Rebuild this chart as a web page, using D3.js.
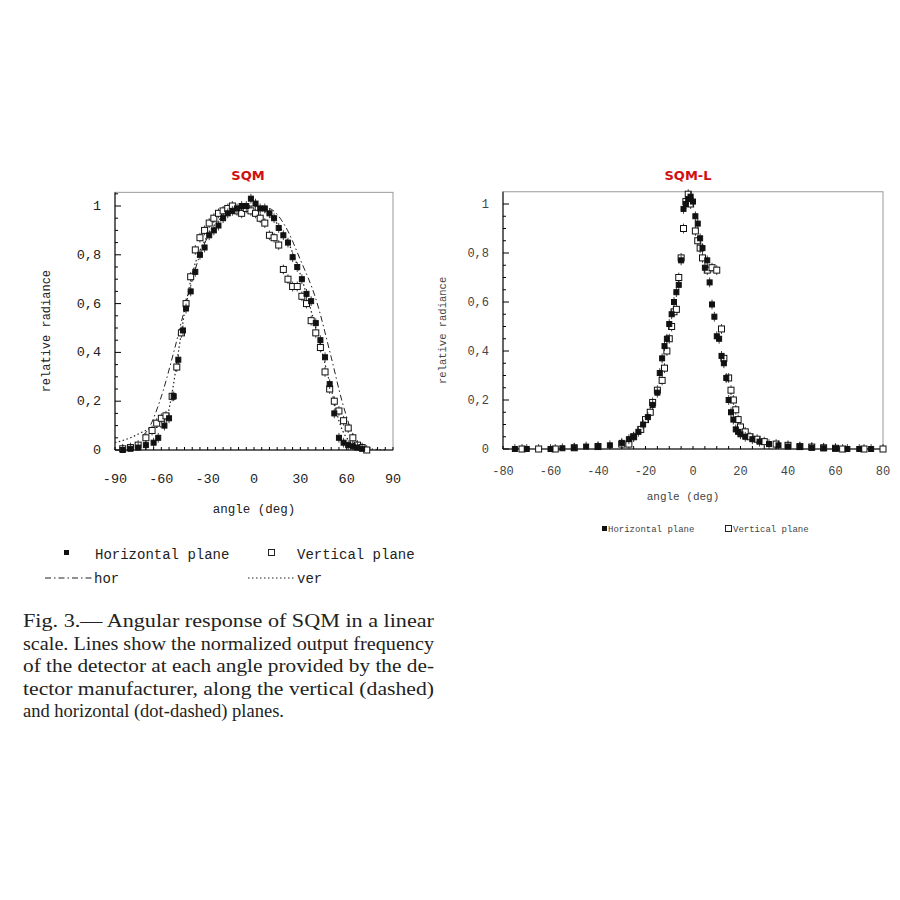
<!DOCTYPE html>
<html><head><meta charset="utf-8">
<script src="https://cdn.jsdelivr.net/npm/d3@7"></script>
<style>body{margin:0;background:#fff}</style>
</head><body>
<svg id="fig" width="900" height="900"></svg>
<script>
// SQM (left) data
var sqmHorX = [-85,-80,-75,-70,-65,-62,-58,-55,-52,-49,-46,-44,-41,-38,-35,-32,-29,-26,-23,-20,-17,-14,-11,-8,-5,-2,1,4,7,10,13,16,19,22,25,28,31,34,37,40,43,46,49,52,55,58,61,64,67,70];
var sqmHorY = [0,0.005,0.01,0.02,0.03,0.05,0.1,0.13,0.22,0.37,0.49,0.58,0.65,0.73,0.8,0.83,0.88,0.9,0.92,0.95,0.97,0.98,0.99,1.0,1.0,1.03,1.01,0.99,0.99,0.97,0.95,0.91,0.88,0.85,0.79,0.75,0.70,0.64,0.61,0.52,0.45,0.38,0.27,0.15,0.05,0.03,0.02,0.015,0.01,0.005];
var sqmVerX = [-85,-80,-75,-70,-66,-63,-60,-57,-53,-50,-47,-44,-41,-38,-35,-32,-29,-26,-23,-20,-17,-14,-11,-8,-5,-2,1,4,7,10,13,16,19,22,25,28,31,34,37,40,43,46,49,52,55,58,61,64,67,70,73];
var sqmVerY = [0.005,0.01,0.02,0.05,0.08,0.11,0.13,0.14,0.22,0.34,0.48,0.6,0.71,0.82,0.87,0.9,0.93,0.95,0.97,0.98,0.99,1.0,0.98,0.97,0.99,0.98,0.97,0.95,0.93,0.88,0.87,0.84,0.74,0.7,0.67,0.67,0.63,0.6,0.53,0.48,0.42,0.32,0.25,0.2,0.16,0.12,0.09,0.05,0.02,0.01,0];
var horLineX = [-72,-69,-61,-52,-44,-35,-20,-10,0,10,20,30,40,50,57,65,72];
var horLineY = [0.06,0.08,0.2,0.4,0.6,0.8,0.95,0.99,1.0,0.99,0.92,0.78,0.62,0.38,0.2,0.05,0];
var verLineX = [-90,-80,-70,-65,-58,-54,-49,-44,-40,-30,-20,-10,0,10,20,30,40,50,55,60,70,85];
var verLineY = [0.03,0.05,0.08,0.09,0.1,0.2,0.4,0.6,0.72,0.88,0.96,1.0,1.0,0.96,0.88,0.72,0.5,0.25,0.12,0.05,0.01,0];

// SQM-L (right) data
var sqmlHorX = [-75,-70,-60,-55,-50,-45,-40,-35,-30,-27,-25,-23,-21,-19,-17,-15,-14,-13,-12,-11,-10,-9,-8,-7,-6,-5,-4,-3,-2,-1,0,1,2,3,4,5,6,7,8,9,10,11,12,13,14,15,16,17,18,19,20,22,25,28,32,36,40,45,50,55,60,65,70,75];
var sqmlHorY = [0,0,0,0.003,0.005,0.01,0.01,0.015,0.025,0.04,0.05,0.07,0.1,0.13,0.18,0.23,0.31,0.37,0.42,0.45,0.51,0.55,0.6,0.64,0.67,0.77,0.98,1.0,1.02,1.03,1.01,0.95,0.92,0.86,0.82,0.74,0.77,0.68,0.59,0.54,0.46,0.45,0.38,0.35,0.29,0.2,0.15,0.12,0.08,0.07,0.06,0.05,0.04,0.03,0.02,0.015,0.01,0.008,0.005,0.003,0.002,0,0,0];
var sqmlVerX = [-72,-65,-58,-50,-40,-30,-27,-25,-22,-20,-18,-17,-15,-13,-12,-11,-10,-9,-8,-7,-6,-5,-4,-3,-2,-1,1,2,3,4,6,8,10,12,13,15,16,17,18,19,20,22,24,27,30,35,40,45,50,55,60,63,72,80];
var sqmlVerY = [0,0,0,0.005,0.01,0.02,0.02,0.05,0.08,0.12,0.15,0.19,0.24,0.28,0.33,0.40,0.45,0.5,0.56,0.57,0.7,0.78,0.9,1.01,1.04,1.0,0.89,0.85,0.82,0.78,0.73,0.74,0.73,0.49,0.37,0.29,0.24,0.2,0.16,0.12,0.09,0.07,0.05,0.04,0.03,0.02,0.015,0.01,0.008,0.005,0.003,0,0,0];

var xTicksL = [-90,-60,-30,0,30,60,90];
var xTicksR = [-80,-60,-40,-20,0,20,40,60,80];
var yTicks = [0,0.2,0.4,0.6,0.8,1];
var yErr = 0.02;

var svg = d3.select("#fig");
var mono = "'Liberation Mono','DejaVu Sans Mono',monospace";
var fmt = function(d){ return d === 0 ? "0" : d === 1 ? "1" : d3.format(".1f")(d).replace(".", ","); };

function panel(o) {
    var x = d3.scaleLinear().domain(o.xd).range([o.l, o.r]);
    var y = d3.scaleLinear().domain([0, 1]).range([o.y0, o.y1]);
    var g = svg.append("g");
    var top = y(o.ytop);

    g.append("rect").attr("x", o.l).attr("y", top).attr("width", o.r - o.l).attr("height", o.y0 - top)
      .attr("fill", "none").attr("stroke", "#999").attr("stroke-width", 1);
    g.append("line").attr("x1", o.l).attr("x2", o.r).attr("y1", o.y0).attr("y2", o.y0).attr("stroke", "#000");
    g.append("line").attr("x1", o.l).attr("x2", o.l).attr("y1", o.y0).attr("y2", top).attr("stroke", "#000");

    // minor ticks
    d3.range(0, o.ytop, 0.05).forEach(function(v){
        var big = Math.abs(v * 5 - Math.round(v * 5)) < 1e-6;
        g.append("line").attr("x1", o.l).attr("x2", o.l + (big ? 6 : 3)).attr("y1", y(v)).attr("y2", y(v)).attr("stroke", "#000");
    });
    d3.range(o.xd[0], o.xd[1] + 0.1, o.xminor).forEach(function(v){
        g.append("line").attr("x1", x(v)).attr("x2", x(v)).attr("y1", o.y0).attr("y2", o.y0 - 3).attr("stroke", "#000");
    });

    o.xt.forEach(function(v){
        g.append("text").attr("x", x(v)).attr("y", o.y0 + o.xlab).attr("text-anchor", "middle")
          .attr("font-family", mono).attr("font-size", o.fs).attr("fill", o.tc).text(v);
    });
    yTicks.forEach(function(v){
        g.append("text").attr("x", o.l - 14).attr("y", y(v) + 4).attr("text-anchor", "end")
          .attr("font-family", mono).attr("font-size", o.fs).attr("fill", o.tc).text(fmt(v));
    });
    g.append("text").attr("x", (o.l + o.r) / 2 + o.axdx).attr("y", o.axy).attr("text-anchor", "middle")
      .attr("font-family", mono).attr("font-size", o.fs - 1).attr("fill", o.tc).text("angle (deg)");
    g.append("text").attr("transform", "translate(" + o.ylx + "," + ((o.y0 + top) / 2 + 10) + ") rotate(-90)")
      .attr("text-anchor", "middle").attr("font-family", mono).attr("font-size", o.fs - 1.5).attr("fill", o.tc)
      .text("relative radiance");
    g.append("text").attr("x", o.tx).attr("y", 180).attr("text-anchor", "middle")
      .attr("font-family", "'DejaVu Sans',sans-serif").attr("font-weight", "bold").attr("font-size", 13)
      .attr("fill", "#d01010").text(o.title);

    if (o.lines) {
        var line = d3.line().x(function(d){ return x(d[0]); }).y(function(d){ return y(d[1]); }).curve(d3.curveMonotoneX);
        g.append("path").attr("d", line(d3.zip(horLineX, horLineY))).attr("fill", "none")
          .attr("stroke", "#222").attr("stroke-width", 1).attr("stroke-dasharray", "6,3,1.5,3");
        g.append("path").attr("d", line(d3.zip(verLineX, verLineY))).attr("fill", "none")
          .attr("stroke", "#222").attr("stroke-width", 1.2).attr("stroke-dasharray", "1.5,2.5");
    }

    function series(xs, ys, filled, s) {
        var pts = d3.zip(xs, ys);
        var gg = g.append("g");
        gg.selectAll("line.e").data(pts).join("line")
          .attr("x1", function(d){ return x(d[0]); }).attr("x2", function(d){ return x(d[0]); })
          .attr("y1", function(d){ return y(Math.max(0, d[1] - yErr)); }).attr("y2", function(d){ return y(d[1] + yErr); })
          .attr("stroke", "#111").attr("stroke-width", 0.8);
        gg.selectAll("rect").data(pts).join("rect")
          .attr("x", function(d){ return x(d[0]) - s / 2; }).attr("y", function(d){ return y(d[1]) - s / 2; })
          .attr("width", s).attr("height", s)
          .attr("fill", filled ? "#111" : "#fff").attr("stroke", "#111").attr("stroke-width", 1);
    }
    series(o.vx, o.vy, false, o.ms + 1);
    series(o.hx, o.hy, true, o.ms);
}

panel({ xd: [-90, 90], l: 115, r: 393, y0: 450, y1: 206, ytop: 1.056, xt: xTicksL, xminor: 5,
        hx: sqmHorX, hy: sqmHorY, vx: sqmVerX, vy: sqmVerY, ms: 5, lines: true,
        fs: 13.5, tc: "#222", xlab: 33, axy: 513, axdx: 0, ylx: 50, tx: 248, title: "SQM" });
panel({ xd: [-80, 80], l: 503, r: 883, y0: 449, y1: 204, ytop: 1.05, xt: xTicksR, xminor: 5,
        hx: sqmlHorX, hy: sqmlHorY, vx: sqmlVerX, vy: sqmlVerY, ms: 5, lines: false,
        fs: 12, tc: "#444", xlab: 26, axy: 500, axdx: -10, ylx: 446, tx: 688, title: "SQM-L" });

// right legend
svg.append("rect").attr("x", 602).attr("y", 526).attr("width", 5).attr("height", 5).attr("fill", "#111");
svg.append("text").attr("x", 608).attr("y", 532).attr("font-family", mono).attr("font-size", 9).attr("fill", "#444").text("Horizontal plane");
svg.append("rect").attr("x", 725.5).attr("y", 525.5).attr("width", 6).attr("height", 6).attr("fill", "none").attr("stroke", "#222");
svg.append("text").attr("x", 733).attr("y", 532).attr("font-family", mono).attr("font-size", 9).attr("fill", "#444").text("Vertical plane");

// left legend
svg.append("rect").attr("x", 64).attr("y", 550).attr("width", 5).attr("height", 5).attr("fill", "#111");
svg.append("text").attr("x", 95).attr("y", 559).attr("font-family", mono).attr("font-size", 14).attr("fill", "#222").text("Horizontal plane");
svg.append("rect").attr("x", 268.5).attr("y", 549.5).attr("width", 6).attr("height", 6).attr("fill", "none").attr("stroke", "#222");
svg.append("text").attr("x", 297).attr("y", 559).attr("font-family", mono).attr("font-size", 14).attr("fill", "#222").text("Vertical plane");
svg.append("line").attr("x1", 45).attr("x2", 92).attr("y1", 578).attr("y2", 578).attr("stroke", "#222").attr("stroke-dasharray", "6,3,1.5,3");
svg.append("text").attr("x", 94).attr("y", 583).attr("font-family", mono).attr("font-size", 14).attr("fill", "#222").text("hor");
svg.append("line").attr("x1", 248).attr("x2", 295).attr("y1", 578).attr("y2", 578).attr("stroke", "#222").attr("stroke-dasharray", "1.5,2.5");
svg.append("text").attr("x", 297).attr("y", 583).attr("font-family", mono).attr("font-size", 14).attr("fill", "#222").text("ver");

// caption
var cap = ["Fig.  3.\u2014 Angular response of SQM in a linear",
           "scale. Lines show the normalized output frequency",
           "of the detector at each angle provided by the de-",
           "tector manufacturer, along the vertical (dashed)",
           "and horizontal (dot-dashed) planes."];
cap.forEach(function(t, i){
    var tx = svg.append("text").attr("x", 23).attr("y", 627 + i * 22.5)
      .attr("font-family", "'Liberation Serif','DejaVu Serif',serif").attr("font-size", 18.5).attr("fill", "#222").text(t);
    if (i < 4) tx.attr("textLength", 411).attr("lengthAdjust", "spacingAndGlyphs");
});
</script>
</body></html>
